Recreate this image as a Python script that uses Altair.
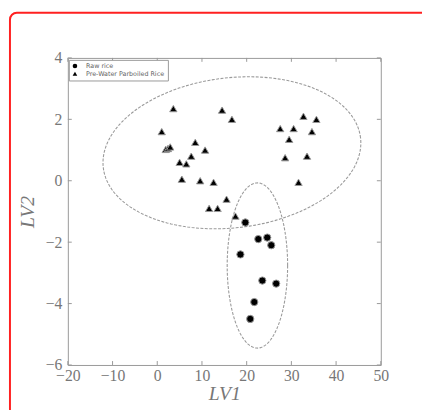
import altair as alt
import numpy as np
import pandas as pd

# ---- data ----
groups = ["Raw rice", "Pre-Water Parboiled Rice"]

tri_x = [1.0, 3.6, 1.9, 2.4, 2.9, 5.0, 6.5, 7.6, 8.5, 10.7, 5.5, 9.6, 12.6,
         11.6, 13.5, 15.5, 14.5, 16.7, 17.5, 27.5, 30.5, 29.5, 32.7, 35.6,
         34.6, 28.6, 33.5, 31.6]
tri_y = [1.6, 2.35, 1.02, 1.05, 1.1, 0.6, 0.55, 0.8, 1.25, 1.0, 0.05, 0.0,
         -0.05, -0.9, -0.9, -0.6, 2.3, 2.0, -1.15, 1.7, 1.7, 1.35, 2.1, 2.0,
         1.6, 0.75, 0.8, -0.05]

circ_x = [19.7, 22.6, 24.6, 25.5, 18.6, 23.5, 26.6, 21.7, 20.8]
circ_y = [-1.36, -1.9, -1.85, -2.1, -2.4, -3.25, -3.35, -3.95, -4.5]

x_ticks = [-20, -10, 0, 10, 20, 30, 40, 50]
y_ticks = [-6, -4, -2, 0, 2, 4]

# ellipse parameters: centre (data), semi-axes (px), rotation (deg)
ell_names = ["big", "small"]
ell_cx = [16.7, 22.4]
ell_cy = [0.91, -2.76]
ell_a = [132.0, 30.8]
ell_b = [76.5, 84.2]
ell_ang = [6.6, 0.0]

W, H = 319, 313
XD = [-20, 50]
YD = [-6, 4]
kx = W / (XD[1] - XD[0])
ky = H / (YD[1] - YD[0])

pts = pd.DataFrame({
    "x": circ_x + tri_x,
    "y": circ_y + tri_y,
    "g": [groups[0]] * len(circ_x) + [groups[1]] * len(tri_x),
})

rows = []
for n, cx, cy, a, b, ang in zip(ell_names, ell_cx, ell_cy, ell_a, ell_b, ell_ang):
    th = np.radians(ang)
    for i, t in enumerate(np.linspace(0, 2 * np.pi, 181)):
        u = a * np.cos(t) * np.cos(th) - b * np.sin(t) * np.sin(th)
        v = a * np.cos(t) * np.sin(th) + b * np.sin(t) * np.cos(th)
        rows.append({"e": n, "i": i, "x": cx + u / kx, "y": cy + v / ky})
ell = pd.DataFrame(rows)

xs = alt.Scale(domain=XD, nice=False, zero=False)
ys = alt.Scale(domain=YD, nice=False, zero=False)

FONT = "Liberation Serif"
GREY = "#777777"

xaxis = alt.Axis(values=x_ticks, ticks=False, domain=False, grid=False,
                 labelFont=FONT, labelFontSize=16, labelColor=GREY,
                 labelPadding=3, labelFlush=False, labelOverlap=False,
                 title="LV1", titleFont=FONT, titleFontStyle="italic",
                 titleFontSize=20, titleFontWeight="normal",
                 titleColor=GREY, titlePadding=0)
yaxis = alt.Axis(values=y_ticks, ticks=False, domain=False, grid=False,
                 labelFont=FONT, labelFontSize=16, labelColor=GREY,
                 labelPadding=6, labelFlush=False, labelOverlap=False,
                 title="LV2", titleFont=FONT, titleFontStyle="italic",
                 titleFontSize=20, titleFontWeight="normal",
                 titleColor=GREY, titlePadding=8)

frame = alt.Chart(pd.DataFrame({"a": [0]})).mark_rect(
    fillOpacity=0, stroke="#ff2020", strokeWidth=2, cornerRadius=7
).encode(x=alt.value(-59), x2=alt.value(371), y=alt.value(-46), y2=alt.value(365))

ellipses = alt.Chart(ell).mark_line(
    color="#9a9a9a", strokeWidth=1.1, strokeDash=[3, 1.5]
).encode(
    x=alt.X("x:Q", scale=xs, axis=xaxis),
    y=alt.Y("y:Q", scale=ys, axis=yaxis),
    detail="e:N",
    order="i:Q",
)

points = alt.Chart(pts).mark_point(
    filled=True, size=55, stroke="#999999", strokeWidth=1, fill="black", opacity=1
).encode(
    x=alt.X("x:Q", scale=xs),
    y=alt.Y("y:Q", scale=ys),
    shape=alt.Shape("g:N", scale=alt.Scale(domain=groups, range=["circle", "triangle-up"]),
                    legend=alt.Legend(title=None, orient="none", legendX=1, legendY=2,
                                      labelFont="DejaVu Sans", labelFontSize=6.5,
                                      labelColor="#666666", symbolSize=22,
                                      symbolFillColor="black", symbolStrokeColor="#888888",
                                      symbolStrokeWidth=0.5,
                                      strokeColor="#999999", fillColor="white",
                                      padding=3, rowPadding=1, labelOffset=8)),
)

xt = pd.DataFrame({"v": x_ticks})
yt = pd.DataFrame({"v": y_ticks})
tick_style = dict(color="#999999", strokeWidth=1)
tb = alt.Chart(xt).mark_rule(**tick_style).encode(x=alt.X("v:Q", scale=xs), y=alt.value(H), y2=alt.value(H - 4))
tt = alt.Chart(xt).mark_rule(**tick_style).encode(x=alt.X("v:Q", scale=xs), y=alt.value(0), y2=alt.value(4))
tl = alt.Chart(yt).mark_rule(**tick_style).encode(y=alt.Y("v:Q", scale=ys), x=alt.value(0), x2=alt.value(4))
tr = alt.Chart(yt).mark_rule(**tick_style).encode(y=alt.Y("v:Q", scale=ys), x=alt.value(W), x2=alt.value(W - 4))

chart = alt.layer(ellipses, tb, tt, tl, tr, points, frame).properties(
    width=W, height=H,
    autosize=alt.AutoSizeParams(type="none"),
    padding={"left": 61, "top": 47, "right": 42, "bottom": 42},
    background="white",
).configure_view(stroke="#999999", strokeWidth=1)

chart.save("out.html", embed_options={"renderer": "svg", "actions": False})
